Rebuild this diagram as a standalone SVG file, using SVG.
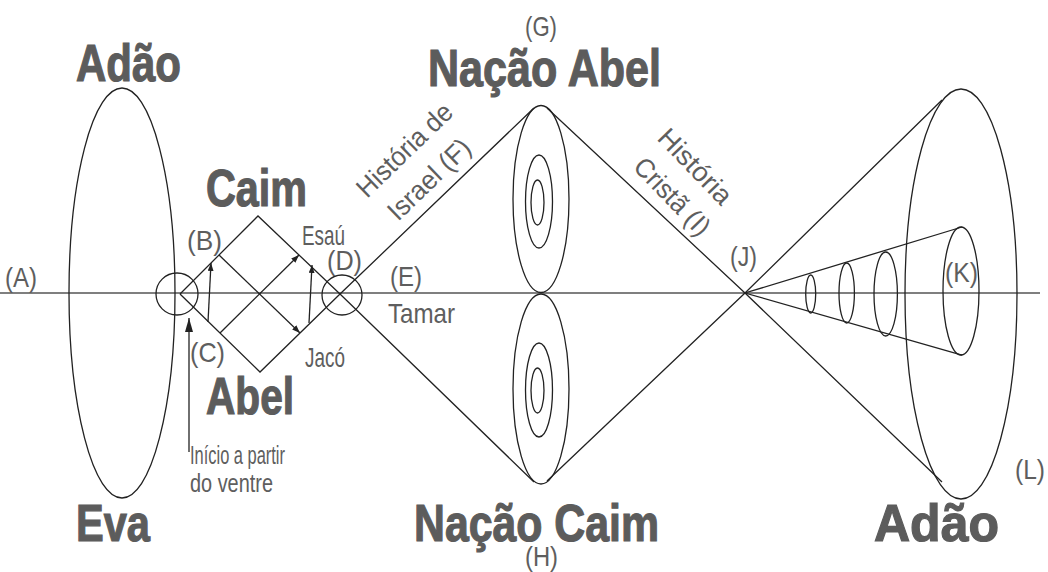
<svg xmlns="http://www.w3.org/2000/svg" width="1048" height="572" viewBox="0 0 1048 572">
<style>
.ln{fill:none;stroke:#222;stroke-width:1.3}
.ax{fill:none;stroke:#555;stroke-width:1.6}
.b{font-family:"Liberation Sans",Arial,sans-serif;font-weight:bold;font-size:52px;fill:#5c5c5c;stroke:#5c5c5c;stroke-width:1.2}
.t{font-family:"Liberation Sans",Arial,sans-serif;font-size:28px;fill:#5e5e5e}
.s{font-family:"Liberation Sans",Arial,sans-serif;font-size:25px;fill:#5e5e5e}
.r{font-family:"Liberation Sans",Arial,sans-serif;font-size:27px;fill:#5e5e5e}
</style>
<defs>
<marker id="ah" markerWidth="8" markerHeight="6" refX="8" refY="3" orient="auto" markerUnits="userSpaceOnUse">
<path d="M0,0 L8,3 L0,6 Z" fill="#222"/>
</marker>
<marker id="ahb" markerWidth="14" markerHeight="8" refX="14" refY="4" orient="auto" markerUnits="userSpaceOnUse">
<path d="M0,0 L14,4 L0,8 Z" fill="#222"/>
</marker>
</defs>
<rect width="1048" height="572" fill="#fff"/>
<g id="axis"><path class="ax" d="M0,293 H1040"/></g>
<g id="adao-eva"><ellipse class="ln" cx="122" cy="293" rx="53" ry="205"/></g>
<g id="origin"><circle class="ln" cx="177" cy="294" r="21"/></g>
<g id="d-node"><circle class="ln" cx="342" cy="295" r="20"/></g>
<g id="nacao-abel">
<ellipse class="ln" cx="541" cy="199" rx="28" ry="93.5"/>
<ellipse class="ln" cx="539" cy="201.5" rx="13.5" ry="46.5"/>
<ellipse class="ln" cx="537.5" cy="202.5" rx="6.5" ry="22.5"/>
</g>
<g id="nacao-caim">
<ellipse class="ln" cx="541" cy="389" rx="28" ry="95"/>
<ellipse class="ln" cx="539" cy="390" rx="13.5" ry="47"/>
<ellipse class="ln" cx="537.5" cy="390.5" rx="6.5" ry="22.5"/>
</g>
<g id="adao-right"><ellipse class="ln" cx="961" cy="294" rx="56" ry="205"/></g>
<g id="k-cone">
<ellipse class="ln" cx="810.7" cy="294" rx="5" ry="19"/>
<ellipse class="ln" cx="846.7" cy="293" rx="7.7" ry="30"/>
<ellipse class="ln" cx="885.7" cy="294" rx="11.7" ry="42"/>
<ellipse class="ln" cx="961" cy="291" rx="18" ry="64"/>
</g>
<g id="connectors">
<path class="ln" d="M180,294 L258,216 L340,294 L534,482"/>
<path class="ln" d="M180,294 L260,372 L340,294 L534,108"/>
<path class="ln" d="M219,255 L300,333" marker-end="url(#ah)"/>
<path class="ln" d="M220,333 L299,255" marker-end="url(#ah)"/>
<path class="ln" d="M208,322 L211,263" marker-end="url(#ah)"/>
<path class="ln" d="M309,323 L312,265" marker-end="url(#ah)"/>
<path class="ln" d="M189,452 L189,318" marker-end="url(#ahb)"/>
<path class="ln" d="M547,108 L745,293 L942,482"/>
<path class="ln" d="M547,481 L745,293 L942,100"/>
<path class="ln" d="M962,227 L745,293 L962,355"/>
</g>
<g id="labels">
<text class="b" x="76" y="81" textLength="105" lengthAdjust="spacingAndGlyphs">Adão</text>
<text class="b" x="428" y="86" textLength="233" lengthAdjust="spacingAndGlyphs">Nação Abel</text>
<text class="b" x="206" y="206" textLength="101" lengthAdjust="spacingAndGlyphs">Caim</text>
<text class="b" x="206" y="414" textLength="88" lengthAdjust="spacingAndGlyphs">Abel</text>
<text class="b" x="76" y="541" textLength="74" lengthAdjust="spacingAndGlyphs">Eva</text>
<text class="b" x="414" y="541" textLength="245" lengthAdjust="spacingAndGlyphs">Nação Caim</text>
<text class="b" x="874" y="541" textLength="125" lengthAdjust="spacingAndGlyphs">Adão</text>
<text class="t" x="5" y="287" textLength="32" lengthAdjust="spacingAndGlyphs">(A)</text>
<text class="t" x="187" y="250" textLength="35" lengthAdjust="spacingAndGlyphs">(B)</text>
<text class="t" x="190" y="362" textLength="35" lengthAdjust="spacingAndGlyphs">(C)</text>
<text class="t" x="302" y="245" textLength="43" lengthAdjust="spacingAndGlyphs">Esaú</text>
<text class="t" x="327" y="270" textLength="35" lengthAdjust="spacingAndGlyphs">(D)</text>
<text class="t" x="390" y="286" textLength="32" lengthAdjust="spacingAndGlyphs">(E)</text>
<text class="t" x="388" y="323" textLength="67" lengthAdjust="spacingAndGlyphs">Tamar</text>
<text class="t" x="305" y="367" textLength="40" lengthAdjust="spacingAndGlyphs">Jacó</text>
<text class="t" x="525" y="36" textLength="32" lengthAdjust="spacingAndGlyphs">(G)</text>
<text class="t" x="525" y="566" textLength="33" lengthAdjust="spacingAndGlyphs">(H)</text>
<text class="t" x="730" y="266" textLength="27" lengthAdjust="spacingAndGlyphs">(J)</text>
<text class="t" x="945" y="282" textLength="33" lengthAdjust="spacingAndGlyphs">(K)</text>
<text class="t" x="1015" y="479" textLength="30" lengthAdjust="spacingAndGlyphs">(L)</text>
<text class="s" x="190" y="464" textLength="95" lengthAdjust="spacingAndGlyphs">Início a partir</text>
<text class="s" x="190" y="492" textLength="83" lengthAdjust="spacingAndGlyphs">do ventre</text>
<text class="r" transform="translate(367,199) rotate(-44)" textLength="122" lengthAdjust="spacingAndGlyphs">História de</text>
<text class="r" transform="translate(398,222) rotate(-44)" textLength="104" lengthAdjust="spacingAndGlyphs">Israel (F)</text>
<text class="r" transform="translate(656,139) rotate(46)" textLength="94" lengthAdjust="spacingAndGlyphs">História</text>
<text class="r" transform="translate(632,168) rotate(46)" textLength="97" lengthAdjust="spacingAndGlyphs">Cristã (I)</text>
</g>
</svg>
